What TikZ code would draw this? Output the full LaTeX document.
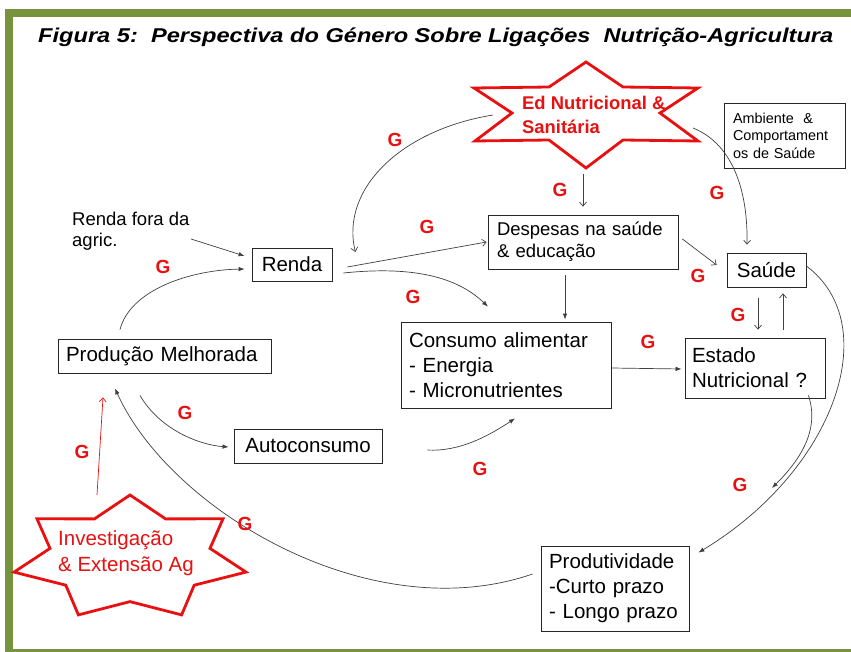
\documentclass[tikz,border=0pt]{standalone}
\usepackage{fontspec}
\setmainfont{Liberation Sans}
\usetikzlibrary{arrows.meta}
\definecolor{frameg}{HTML}{77933C}
\definecolor{redc}{RGB}{232,16,16}
\begin{document}
\begin{tikzpicture}[x=1pt,y=-1pt,
  box/.style={draw=black!85,line width=0.8pt,fill=white,inner sep=0pt,text=black,font=\fontsize{20.5}{25}\selectfont},
  glab/.style={text=redc,font=\fontsize{19}{22}\selectfont\bfseries,inner sep=0pt},
  conn/.style={draw=black!75,line width=0.7pt},
  fa/.style={conn,-{Latex[length=6pt,width=4.5pt]}},
  oa/.style={conn,-{Straight Barb[length=4pt,width=7pt]}},
  starline/.style={draw=redc,line width=2.8pt,fill=white,line join=miter}
]
\useasboundingbox (0,0) rectangle (851,652);
\fill[white] (0,0) rectangle (851,652);
% frame
\fill[frameg] (5,9) rectangle (851,17);
\fill[frameg] (5,9) rectangle (13,652);
\fill[frameg] (5,649) rectangle (851,652);

% title
\node[anchor=base west,inner sep=0pt,font=\fontsize{20}{24}\selectfont\bfseries\itshape] (title) at (38,43)
  {\resizebox{795pt}{\height}{Figura 5:\ \ Perspectiva do Género Sobre Ligações\ \ Nutrição-Agricultura}};

% stars
\draw[starline] (586,62) -- (549,87) -- (474,88) -- (512,113) -- (475,141) -- (549,140) -- (586,168)
  -- (623,140) -- (698,141) -- (660,113) -- (698,88) -- (623,87) -- cycle;
\node[font=\fontsize{18.4}{24}\selectfont\bfseries,text=redc,align=left,anchor=west,inner sep=0pt] (ed) at (522,115) {Ed Nutricional \&\\Sanitária};

\draw[starline] (130,495) -- (165.6,518.9) -- (223,518.8) -- (210,548.4) -- (246,572.1) -- (194.2,585.2)
  -- (181.6,614.9) -- (130,601.6) -- (78.4,614.9) -- (65.8,585.2) -- (14,572.1) -- (50,548.4)
  -- (37,518.8) -- (94.4,518.9) -- cycle;
\node[font=\fontsize{20.5}{26}\selectfont,text=redc,align=left,anchor=west,inner sep=0pt] (inv) at (58,553) {Investigação\\\& Extensão Ag};

% boxes
\node[box,minimum width=80pt,minimum height=33pt] (renda) at (292,264.5) {Renda};
\node[box,minimum width=213pt,minimum height=34pt,text width=197pt,align=left] (prod) at (164.5,356) {Produção Melhorada};
\node[box,minimum width=148pt,minimum height=34pt] (auto) at (308,446) {Autoconsumo};
\node[box,minimum width=190pt,minimum height=54pt,text width=172pt,align=left,font=\fontsize{18.5}{22}\selectfont] (desp) at (583,242) {Despesas na saúde\\\& educação};
\node[box,minimum width=79pt,minimum height=34pt] (saude) at (766.5,270) {Saúde};
\node[box,minimum width=210pt,minimum height=86pt,text width=194pt,align=left] (cons) at (506,365) {Consumo alimentar\\- Energia\\- Micronutrientes};
\node[box,minimum width=140pt,minimum height=60pt,text width=126pt,align=left] (estado) at (755,368) {Estado\\Nutricional ?};
\node[box,minimum width=148pt,minimum height=85pt,text width=132pt,align=left] (produt) at (615,588.5) {Produtividade\\-Curto prazo\\- Longo prazo};
\node[box,minimum width=121pt,minimum height=65pt,text width=103pt,align=left,font=\fontsize{14.4}{17.5}\selectfont] (amb) at (784.5,135.5) {Ambiente~~\&\\Comportament\\os de Saúde};

\node[anchor=north west,inner sep=0pt,align=left,font=\fontsize{18.5}{21}\selectfont] (rfora) at (72,212) {Renda fora da\\agric.};

% free-end coordinates
\coordinate (edW) at (493,115);
\coordinate (edE) at (693,128);
\coordinate (edS) at (583,174);
\coordinate (rfE) at (191,239);
\coordinate (invN) at (97,495);
\coordinate (merge) at (772,488);

% connectors
\draw[oa] (edW) .. controls (400,130) and (340,190) .. ([xshift=23pt,yshift=12.5pt]renda.east);
\draw[oa] (edS) -- ([yshift=8pt]desp.north);
\draw[oa] (edE) .. controls (735,145) and (748,195) .. ([xshift=-19.5pt,yshift=8pt]saude.north);
\draw[fa] (rfE) -- ([xshift=-7pt,yshift=8.5pt]renda.west);
\draw[fa] ([xshift=-44.5pt,yshift=9pt]prod.north) .. controls (130,290) and (190,270) .. ([xshift=-7pt,yshift=-4.5pt]renda.west);
\draw[oa] ([xshift=15pt,yshift=-2.5pt]renda.east) -- ([xshift=-1pt]desp.west);
\draw[fa] ([xshift=11pt,yshift=-8.5pt]renda.east) .. controls (420,265) and (460,280) .. ([xshift=-18pt,yshift=15pt]cons.north);
\draw[fa] ([xshift=-18pt,yshift=-6pt]desp.south) -- ([xshift=59pt,yshift=2pt]cons.north);
\draw[oa] ([xshift=4pt,yshift=3pt]desp.east) -- ([xshift=-10pt,yshift=5pt]saude.west);
\draw[fa] ([yshift=-3pt]cons.east) -- ([xshift=-3pt,yshift=-1pt]estado.west);
\draw[oa] ([xshift=-8.5pt,yshift=-11pt]saude.south) -- ([xshift=3pt,yshift=8pt]estado.north);
\draw[oa] ([xshift=28pt,yshift=8pt]estado.north) -- ([xshift=16.5pt,yshift=-6pt]saude.south);
\draw[fa] ([xshift=-24.5pt,yshift=-22pt]prod.south) .. controls (160,430) and (200,445) .. ([xshift=-5pt,yshift=-1pt]auto.west);
\draw[fa] ([xshift=45pt,yshift=-4pt]auto.east) .. controls (460,452) and (490,435) .. ([xshift=9pt,yshift=-10pt]cons.south);
\draw[fa] ([xshift=-8pt,yshift=14.5pt]produt.west) .. controls (370,630) and (170,510) .. ([xshift=-49.5pt,yshift=-15pt]prod.south);
\draw[fa] ([yshift=4pt]saude.east) .. controls (885,325) and (835,470) .. ([xshift=9pt,yshift=-7pt]produt.north east);
\draw[fa] ([xshift=-17pt,yshift=3pt]estado.south east) .. controls (820,430) and (800,460) .. (merge);
\draw[draw=redc,line width=0.7pt,-{Straight Barb[length=4pt,width=7pt]}] (invN) -- ([xshift=-61.5pt,yshift=-24pt]prod.south);

% G labels
\node[glab] (g1) at (395,140) {G};
\node[glab] (g2) at (560,190) {G};
\node[glab] (g3) at (717,193) {G};
\node[glab] (g4) at (427,227) {G};
\node[glab] (g5) at (163,267) {G};
\node[glab] (g6) at (413,297) {G};
\node[glab] (g7) at (698,276) {G};
\node[glab] (g8) at (648,342) {G};
\node[glab] (g9) at (738,315) {G};
\node[glab] (g10) at (185,413) {G};
\node[glab] (g11) at (82,452) {G};
\node[glab] (g12) at (480,469) {G};
\node[glab] (g13) at (740,485) {G};
\node[glab] (g14) at (245,524) {G};
\end{tikzpicture}
\end{document}
